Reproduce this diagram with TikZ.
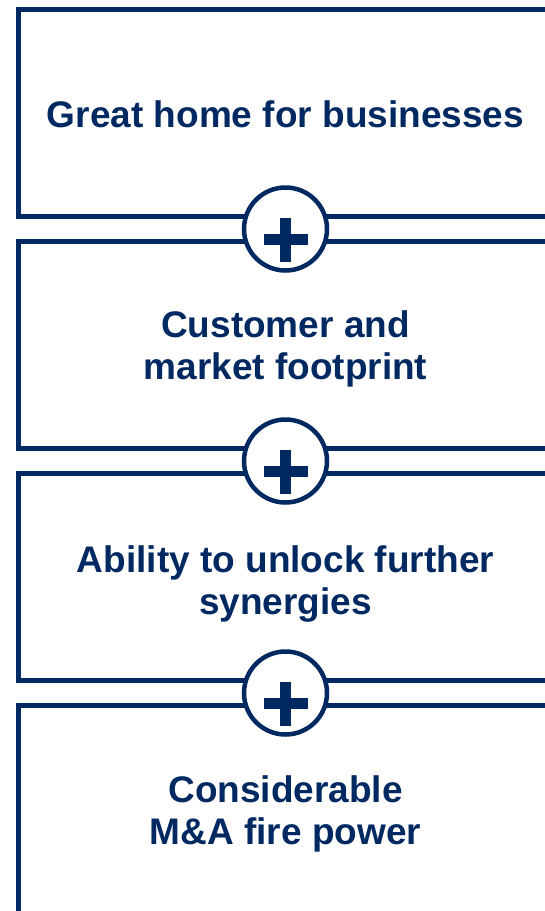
\documentclass[tikz,border=0pt]{standalone}
\usepackage{fontspec}
\setmainfont{Liberation Sans}
\definecolor{navyline}{rgb}{0.000000, 0.160000, 0.380000}
\newlength{\du}
\setlength{\du}{1pt}
\tikzset{
  boxline/.style={draw=navyline, line width=5.000000\du, line join=miter},
  pluscircle/.style={circle, draw=navyline, fill=white, line width=4.500000\du, minimum size=83.000000\du, inner sep=0pt},
  plusbar/.style={draw=navyline, line width=11.000000\du, line cap=butt},
  boxtext/.style={text=navyline, font=\bfseries\fontsize{37}{42}\selectfont, align=center, inner sep=0pt}
}
\begin{document}
\begin{tikzpicture}
\pgftransformxscale{1.000000}
\pgftransformyscale{-1.000000}
\useasboundingbox (0\du,0\du) rectangle (545\du,911\du);
\clip (0\du,0\du) rectangle (545\du,911\du);
% boxes, open to the right
\draw[boxline] (560.000000\du,9.500000\du)--(18.500000\du,9.500000\du)--(18.500000\du,216.500000\du)--(560.000000\du,216.500000\du);
\draw[boxline] (560.000000\du,241.500000\du)--(18.500000\du,241.500000\du)--(18.500000\du,448.500000\du)--(560.000000\du,448.500000\du);
\draw[boxline] (560.000000\du,473.500000\du)--(18.500000\du,473.500000\du)--(18.500000\du,680.500000\du)--(560.000000\du,680.500000\du);
\draw[boxline] (560.000000\du,705.500000\du)--(18.500000\du,705.500000\du)--(18.500000\du,930.000000\du);
% box texts
\node[boxtext] (homebox) at (285.500000\du,114.500000\du){Great home for businesses};
\node[boxtext] (footprint) at (285.500000\du,348.700000\du){Customer and\\market footprint};
\node[boxtext] (synergies) at (285.500000\du,583.600000\du){Ability to unlock further\\synergies};
\node[boxtext] (firepower) at (285.500000\du,813.700000\du){Considerable\\M\&A fire power};
% plus circles
\node[pluscircle] (plusone) at (285.500000\du,229.000000\du){};
\draw[plusbar] (263.500000\du,239.500000\du)--(307.500000\du,239.500000\du);
\draw[plusbar] (285.500000\du,217.500000\du)--(285.500000\du,261.500000\du);
\node[pluscircle] (plustwo) at (285.500000\du,461.000000\du){};
\draw[plusbar] (263.500000\du,471.500000\du)--(307.500000\du,471.500000\du);
\draw[plusbar] (285.500000\du,449.500000\du)--(285.500000\du,493.500000\du);
\node[pluscircle] (plusthree) at (285.500000\du,693.000000\du){};
\draw[plusbar] (263.500000\du,703.500000\du)--(307.500000\du,703.500000\du);
\draw[plusbar] (285.500000\du,681.500000\du)--(285.500000\du,725.500000\du);
\end{tikzpicture}
\end{document}
